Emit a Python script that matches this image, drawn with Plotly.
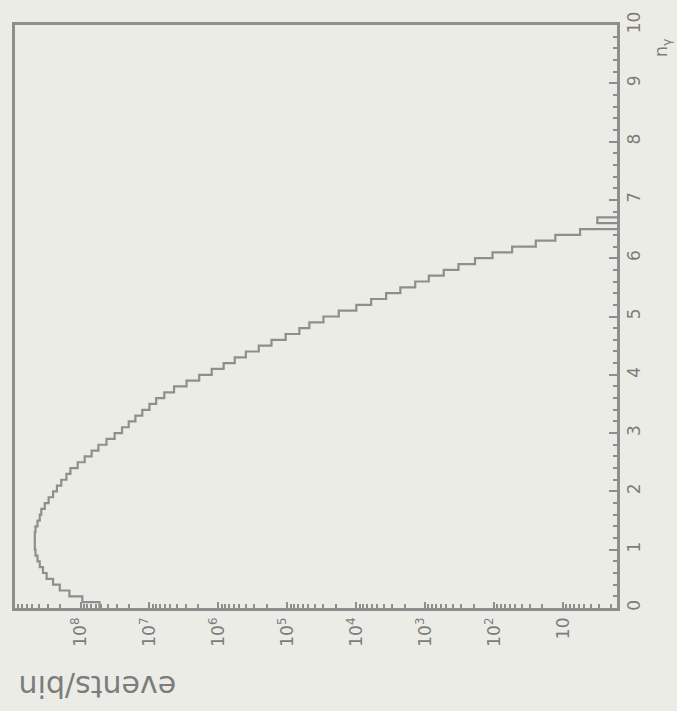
import plotly.graph_objects as go

# ---- data ----
bin_width = 0.1
# events per bin for n_gamma bins [0,0.1), [0.1,0.2), ...
events = [
    5.3e7, 9.4e7, 1.45e8, 2.0e8, 2.5e8, 3.1e8, 3.5e8, 3.9e8, 4.2e8, 4.5e8,
    4.6e8, 4.6e8, 4.6e8, 4.5e8, 4.2e8, 3.9e8, 3.7e8, 3.3e8, 2.9e8, 2.5e8,
    2.2e8, 1.9e8, 1.6e8, 1.4e8, 1.1e8, 8.7e7, 6.9e7, 5.5e7, 4.2e7, 3.2e7,
    2.5e7, 2.0e7, 1.6e7, 1.27e7, 1.0e7, 8.0e6, 6.1e6, 4.4e6, 2.9e6, 1.9e6,
    1.25e6, 8.4e5, 5.8e5, 4.0e5, 2.6e5, 1.7e5, 1.06e5, 6.7e4, 4.8e4, 3.0e4,
    1.8e4, 1.0e4, 6.1e3, 3.7e3, 2.3e3, 1.4e3, 890, 540, 330, 190,
    106, 55, 25, 13, 5.7, 0, 3.2, 0,
]
x_tick_values = [10, 1e2, 1e3, 1e4, 1e5, 1e6, 1e7, 1e8]
x_tick_labels = ["10", "10<sup>2</sup>", "10<sup>3</sup>", "10<sup>4</sup>",
                 "10<sup>5</sup>", "10<sup>6</sup>", "10<sup>7</sup>", "10<sup>8</sup>"]
y_tick_values = list(range(0, 11))
y_tick_labels = [str(v) for v in y_tick_values]

# ---- styling ----
BG = "#ecece7"
LINE = "#8e8e8e"
TEXT = "#7c7c7c"
FONT = "DejaVu Sans"

# build step outline (bins along the vertical n_gamma axis)
floor = 0.3  # empty bins drawn below the axis minimum (clipped)
vals = [v if v > 0 else floor for v in events]
edges = [i * bin_width for i in range(len(vals) + 1)]
xs = vals + [vals[-1]]
ys = edges

fig = go.Figure()
fig.add_trace(go.Scatter(
    x=xs, y=ys, mode="lines", line=dict(color=LINE, width=2.2, shape="vh"),
    showlegend=False, hoverinfo="skip",
))

fig.update_layout(
    width=677, height=711,
    margin=dict(l=12, r=60, t=13, b=103),
    paper_bgcolor=BG, plot_bgcolor=BG,
    font=dict(family=FONT, color=TEXT, size=17),
    xaxis=dict(
        type="log", range=[8.95, 0.22], autorange=False,
        showgrid=False, zeroline=False,
        showline=True, linecolor=LINE, linewidth=2.5, mirror=True,
        ticks="inside", ticklen=6, tickwidth=2, tickcolor=LINE,
        tickvals=x_tick_values, ticktext=x_tick_labels, tickangle=-90,
        tickfont=dict(size=17, color=TEXT, family=FONT),
        minor=dict(ticks="inside", ticklen=4, tickwidth=2, tickcolor=LINE,
                   dtick="D1", showgrid=False),
    ),
    yaxis=dict(
        range=[0, 10], autorange=False, side="right",
        showgrid=False, zeroline=False,
        showline=True, linecolor=LINE, linewidth=2.5, mirror=True,
        ticks="inside", ticklen=8, tickwidth=2, tickcolor=LINE,
        tickvals=y_tick_values, ticktext=y_tick_labels, tickangle=-90,
        tickfont=dict(size=17, color=TEXT, family=FONT),
        minor=dict(ticks="inside", ticklen=4, tickwidth=2, tickcolor=LINE,
                   dtick=0.2, showgrid=False),
    ),
    annotations=[
        dict(text="events/bin", x=95, y=688, showarrow=False, textangle=180,
             font=dict(size=30, color=TEXT, family=FONT)),
        dict(text="n<sub>γ</sub>", x=662, y=36, showarrow=False, textangle=-90,
             font=dict(size=18, color=TEXT, family=FONT)),
    ],
)

# annotation coordinates given in pixels: convert to paper coordinates
pw = 677 - 12 - 60
ph = 711 - 13 - 103
for a in fig.layout.annotations:
    px, py = a.x, a.y
    a.x = (px - 12) / pw
    a.y = 1 - (py - 13) / ph
    a.xref = "paper"
    a.yref = "paper"
    a.xanchor = "center"
    a.yanchor = "middle"

fig.write_html("out.html")
